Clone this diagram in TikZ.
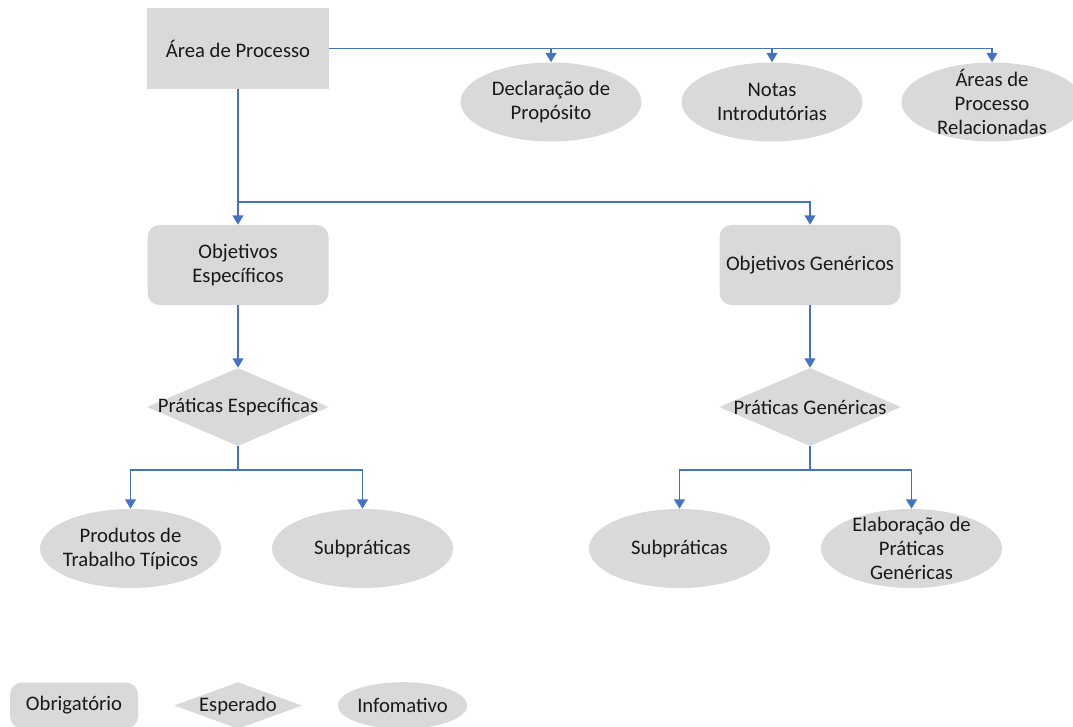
\documentclass[tikz,border=0pt]{standalone}
\usepackage{fontspec}
\setmainfont{Carlito}
\usetikzlibrary{shapes.geometric,arrows.meta}
\definecolor{boxgray}{HTML}{D9D9D9}
\definecolor{linkblue}{HTML}{4472C4}
\tikzset{
  base/.style={fill=boxgray,draw=none,inner sep=0pt,font=\fontsize{15.5}{18}\selectfont},
  txt/.style={align=center,font=\fontsize{15.5}{18}\selectfont,text=black!90},
  mandbox/.style={base,rectangle,rounded corners=9pt,minimum width=135.75pt,minimum height=60pt},
  sqbox/.style={base,rectangle,minimum width=136.5pt,minimum height=60.75pt},
  expdiamond/.style={base,diamond,minimum width=136.5pt,minimum height=58.5pt},
  infoell/.style={base,ellipse,minimum width=135.75pt,minimum height=59.25pt},
  arr/.style={draw=linkblue,line width=1.4pt,-{Triangle[width=8pt,length=7pt]}},
  ln/.style={draw=linkblue,line width=1.4pt}
}
\begin{document}
\begin{tikzpicture}[x=0.75pt,y=-0.75pt]
\useasboundingbox (0,0) rectangle (1073,727);
% top
\node[sqbox,label={[txt]center:Área de Processo}] (ap) at (238,48.5) {};
\node[infoell,label={[txt]center:Declaração de\\Propósito}] (dp) at (551,102) {};
\node[infoell,label={[txt]center:Notas\\Introdutórias}] (ni) at (772,102) {};
\node[infoell,label={[txt]center:Áreas de\\Processo\\Relacionadas}] (ar) at (992,102) {};
% middle
\node[mandbox,label={[txt]center:Objetivos\\Específicos}] (oe) at (238,265) {};
\node[mandbox,label={[txt]center:Objetivos Genéricos}] (og) at (810,265) {};
\node[expdiamond,label={[txt]center:Práticas Específicas}] (pe) at (238,407) {};
\node[expdiamond,label={[txt]center:Práticas Genéricas}] (pg) at (810,407) {};
% bottom
\node[infoell,label={[txt]center:Produtos de\\Trabalho Típicos}] (pt) at (130.5,548.5) {};
\node[infoell,label={[txt]center:Subpráticas}] (s1) at (362.5,548.5) {};
\node[infoell,label={[txt]center:Subpráticas}] (s2) at (679.5,548.5) {};
\node[infoell,label={[txt]center:Elaboração de\\Práticas\\Genéricas}] (el) at (911.5,548.5) {};
% legend
\node[base,rectangle,rounded corners=9pt,minimum width=96pt,minimum height=34.5pt,label={[txt]center:Obrigatório}] (l1) at (74,705.5) {};
\node[base,diamond,minimum width=96pt,minimum height=35pt,label={[txt]center:Esperado}] (l2) at (238,705.5) {};
\node[base,ellipse,minimum width=97pt,minimum height=35pt,label={[txt]center:Infomativo}] (l3) at (402.5,705.5) {};
% connectors
\coordinate (j1) at (238,202);
\coordinate (j2) at (238,470);
\coordinate (j3) at (810,470);
\draw[arr] (ap.east) -| (ar.north);
\draw[arr] (ap.east -| dp.north) -- (dp.north);
\draw[arr] (ap.east -| ni.north) -- (ni.north);
\draw[arr] (ap.south -| oe.north) -- (oe.north);
\draw[arr] (j1) -| (og.north);
\draw[arr] (oe.south) -- (pe.north);
\draw[arr] (og.south) -- (pg.north);
\draw[ln] (pe.south) -- (j2);
\draw[arr] (j2) -| (pt.north);
\draw[arr] (j2) -| (s1.north);
\draw[ln] (pg.south) -- (j3);
\draw[arr] (j3) -| (s2.north);
\draw[arr] (j3) -| (el.north);
\end{tikzpicture}
\end{document}
